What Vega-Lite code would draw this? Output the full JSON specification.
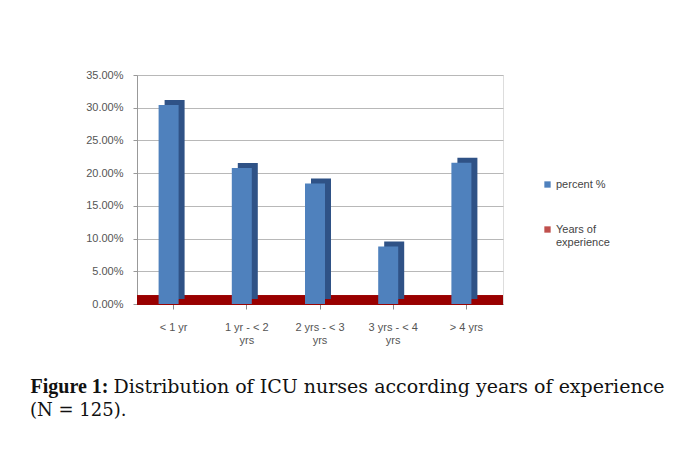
{
  "$schema": "https://vega.github.io/schema/vega-lite/v6.json",
  "autosize": "none",
  "width": 366,
  "height": 229,
  "padding": {"left": 137, "top": 75, "right": 180, "bottom": 169},
  "background": "white",
  "title": {
    "text": "(N = 125).",
    "orient": "bottom",
    "anchor": "start",
    "frame": "group",
    "font": "DejaVu Serif",
    "fontSize": 18,
    "fontWeight": "normal",
    "color": "#111111",
    "dx": -107,
    "offset": 6
  },
  "data": {
    "values": [
      {"experience": "< 1 yr", "percent": 0.304, "series": "percent %"},
      {"experience": "1 yr - < 2 yrs", "percent": 0.208, "series": "percent %"},
      {"experience": "2 yrs - < 3 yrs", "percent": 0.184, "series": "percent %"},
      {"experience": "3 yrs - < 4 yrs", "percent": 0.088, "series": "percent %"},
      {"experience": "> 4 yrs", "percent": 0.216, "series": "percent %"}
    ]
  },
  "layer": [
    {
      "mark": {"type": "rule", "color": "#990000", "strokeWidth": 9, "yOffset": -4},
      "encoding": {"y": {"datum": 0, "type": "quantitative"}}
    },
    {
      "mark": {"type": "bar", "color": "#2F5286", "size": 20, "xOffset": 1, "yOffset": -5},
      "encoding": {
        "x": {
          "field": "experience",
          "type": "nominal",
          "sort": null,
          "scale": {"paddingInner": 0, "paddingOuter": 0},
          "axis": {
            "title": "Distribution of ICU nurses according years of experience",
            "titleFont": "DejaVu Serif",
            "titleFontSize": 19,
            "titleFontWeight": "normal",
            "titleColor": "#111111",
            "titleAlign": "left",
            "titleBaseline": "alphabetic",
            "titleLimit": 800,
            "titleX": -24,
            "titleY": 88,
            "labelAngle": 0,
            "labelFont": "Liberation Sans",
            "labelFontSize": 11,
            "labelColor": "#555555",
            "labelPadding": 12,
            "labelExpr": "datum.value == '< 1 yr' || datum.value == '> 4 yrs' ? datum.value : [slice(datum.value, 0, lastindexof(datum.value, ' ')), 'yrs']",
            "tickSize": 5,
            "tickColor": "#888888",
            "domainColor": "#888888",
            "grid": false
          }
        },
        "y": {
          "field": "percent",
          "type": "quantitative",
          "scale": {"domain": [0, 0.35], "nice": false},
          "axis": {
            "title": "Figure 1:",
            "titleFont": "Liberation Serif",
            "titleFontSize": 20,
            "titleFontWeight": "bold",
            "titleColor": "#111111",
            "titleAngle": 0,
            "titleAlign": "left",
            "titleBaseline": "alphabetic",
            "titleX": -107,
            "titleY": 317,
            "values": [0, 0.05, 0.1, 0.15, 0.2, 0.25, 0.3, 0.35],
            "tickCount": 8,
            "format": ".2%",
            "labelFont": "Liberation Sans",
            "labelFontSize": 11,
            "labelColor": "#555555",
            "labelPadding": 10,
            "tickSize": 4,
            "tickColor": "#999999",
            "domainColor": "#999999",
            "gridColor": "#b8b8b8",
            "grid": true
          }
        }
      }
    },
    {
      "mark": {"type": "bar", "size": 20, "xOffset": -5},
      "encoding": {
        "x": {
          "field": "experience",
          "type": "nominal",
          "sort": null,
          "axis": {
            "title": "Distribution of ICU nurses according years of experience",
            "titleFont": "DejaVu Serif",
            "titleFontSize": 19,
            "titleFontWeight": "normal",
            "titleColor": "#111111",
            "titleAlign": "left",
            "titleBaseline": "alphabetic",
            "titleLimit": 800,
            "titleX": -24,
            "titleY": 88,
            "labelAngle": 0,
            "labelFont": "Liberation Sans",
            "labelFontSize": 11,
            "labelColor": "#555555",
            "labelPadding": 12,
            "labelExpr": "datum.value == '< 1 yr' || datum.value == '> 4 yrs' ? datum.value : [slice(datum.value, 0, lastindexof(datum.value, ' ')), 'yrs']",
            "tickSize": 5,
            "tickColor": "#888888",
            "domainColor": "#888888",
            "grid": false
          }
        },
        "y": {
          "field": "percent",
          "type": "quantitative",
          "axis": {
            "title": "Figure 1:",
            "titleFont": "Liberation Serif",
            "titleFontSize": 20,
            "titleFontWeight": "bold",
            "titleColor": "#111111",
            "titleAngle": 0,
            "titleAlign": "left",
            "titleBaseline": "alphabetic",
            "titleX": -107,
            "titleY": 317,
            "tickCount": 8,
            "format": ".2%",
            "labelFont": "Liberation Sans",
            "labelFontSize": 11,
            "labelColor": "#555555",
            "labelPadding": 10,
            "tickSize": 4,
            "tickColor": "#999999",
            "domainColor": "#999999",
            "gridColor": "#b8b8b8",
            "grid": true
          }
        },
        "color": {
          "field": "series",
          "type": "nominal",
          "scale": {"domain": ["percent %", "Years of experience"], "range": ["#4F81BD", "#C0504D"]},
          "legend": {
            "title": null,
            "orient": "none",
            "legendX": 405,
            "legendY": 104,
            "symbolType": "square",
            "symbolSize": 40,
            "symbolStrokeWidth": 0,
            "labelFont": "Liberation Sans",
            "labelFontSize": 11,
            "labelColor": "#444444",
            "labelOffset": 3,
            "rowPadding": 33,
            "labelExpr": "datum.label == 'Years of experience' ? ['Years of', 'experience'] : datum.label"
          }
        }
      }
    }
  ]
}
